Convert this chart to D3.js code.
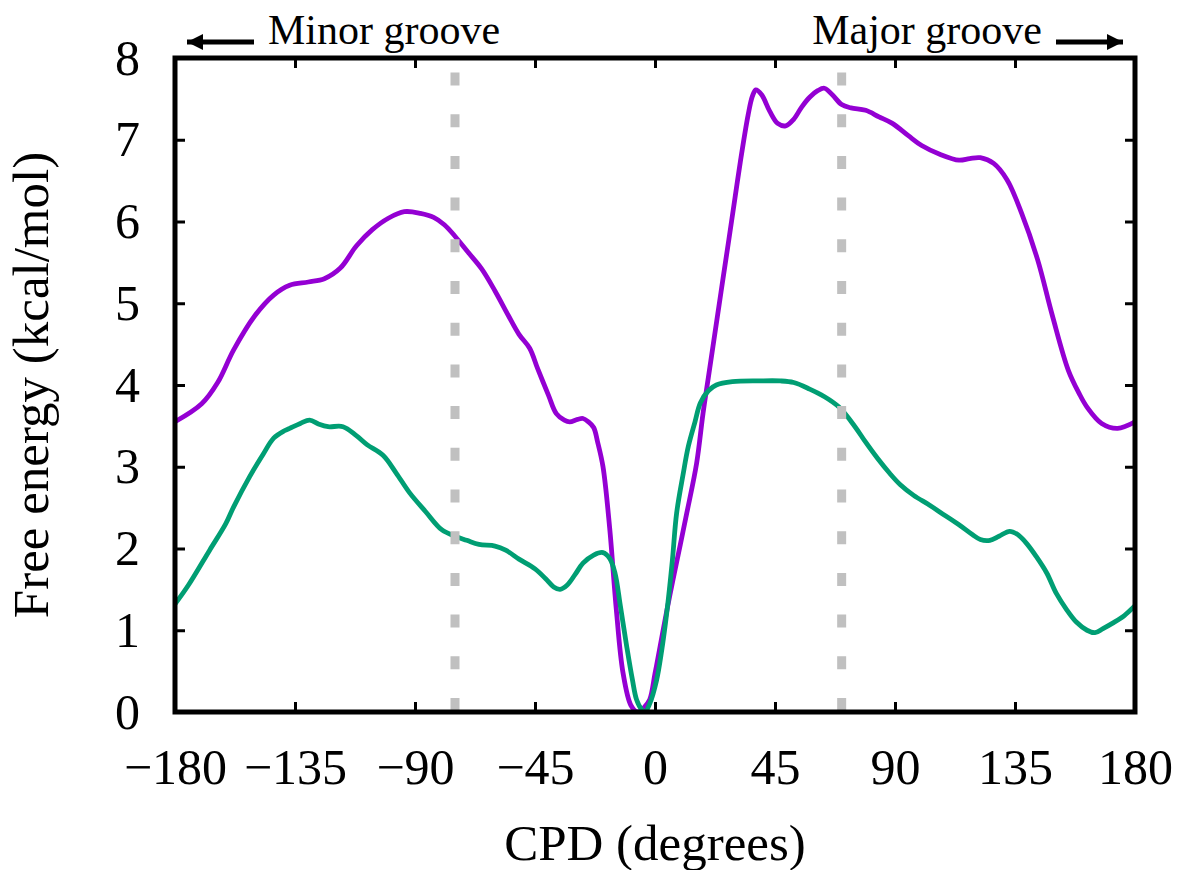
<!DOCTYPE html>
<html lang="en">
<head>
  <meta charset="UTF-8">
  <title>Free energy vs CPD</title>
  <script src="https://d3js.org/d3.v7.min.js"></script>
  <style>
    body { margin: 0; background: #fff; }
    text { font-family: "Liberation Serif", "Times New Roman", serif; fill: #000; }
  </style>
</head>
<body>
  <div id="chart"></div>
  <script>
    // data
    const purpleCpd = [-180, -170, -164, -158, -150, -143, -137, -130, -124, -118, -112, -106, -100, -94, -88, -83, -79, -75, -70, -65, -60, -55, -51, -47, -44, -40, -37, -34, -32, -29, -27, -25, -23, -21.5, -19.5, -17, -14.5, -12, -9, -6.5, -4, -2, 0, 1.9, 4.5, 6.7, 9.5, 11.9, 15.6, 18, 20, 23.5, 25.5, 27.7, 30, 32, 34.9, 36.5, 37.8, 40, 43, 46, 49, 52, 55, 58, 61, 63.5, 66.5, 70, 73.5, 79, 84, 89, 95, 100, 107, 114, 118, 122, 127, 132, 137.5, 143.5, 149, 155, 159, 162, 167.5, 173.5, 180];
    const purpleEnergy = [3.55, 3.77, 4.03, 4.43, 4.85, 5.1, 5.22, 5.26, 5.3, 5.43, 5.7, 5.9, 6.04, 6.12, 6.1, 6.05, 5.96, 5.82, 5.62, 5.42, 5.15, 4.85, 4.62, 4.45, 4.2, 3.88, 3.65, 3.57, 3.55, 3.58, 3.59, 3.55, 3.48, 3.3, 3.0, 2.25, 1.25, 0.48, 0.08, 0, 0.06, 0.15, 0.47, 0.8, 1.25, 1.61, 2.05, 2.43, 3.04, 3.65, 4.09, 4.86, 5.3, 5.78, 6.29, 6.73, 7.3, 7.53, 7.61, 7.55, 7.35, 7.2, 7.17, 7.25, 7.4, 7.52, 7.6, 7.63, 7.55, 7.43, 7.39, 7.36, 7.28, 7.2, 7.05, 6.93, 6.82, 6.75, 6.77, 6.78, 6.71, 6.51, 6.1, 5.53, 4.85, 4.18, 3.9, 3.73, 3.53, 3.47, 3.55];

    const greenCpd = [-180, -175, -167, -161, -158, -152, -147, -143, -139, -137, -133, -129.5, -126, -122.6, -117, -112, -108, -102, -97, -92, -86, -80, -75, -70.6, -66, -60, -56, -51, -45, -41, -38, -35.6, -33, -30, -27, -23, -19.5, -17, -15, -13, -10.6, -8.5, -6.9, -5, -3.75, -2, 0.6, 2.5, 4.4, 6.5, 8.1, 10.5, 12.5, 15, 17, 20, 23, 29, 39, 47, 52, 58, 63.4, 69, 75, 79, 83.5, 88, 92, 97, 103, 108, 114, 119, 122, 125.6, 129, 133, 136, 139.4, 143, 146.9, 150.5, 154.4, 158, 162, 165, 168, 171.8, 176, 180];
    const greenEnergy = [1.32, 1.55, 1.98, 2.3, 2.51, 2.88, 3.15, 3.35, 3.44, 3.47, 3.53, 3.57, 3.52, 3.49, 3.49, 3.38, 3.27, 3.14, 2.92, 2.68, 2.45, 2.23, 2.15, 2.1, 2.05, 2.03, 1.98, 1.87, 1.75, 1.63, 1.53, 1.5, 1.55, 1.68, 1.82, 1.92, 1.95, 1.88, 1.7, 1.3, 0.8, 0.4, 0.15, 0.03, 0, 0.1, 0.39, 0.75, 1.21, 1.85, 2.43, 2.9, 3.25, 3.55, 3.78, 3.93, 4.0, 4.04, 4.05, 4.05, 4.03, 3.95, 3.86, 3.73, 3.49, 3.3, 3.1, 2.92, 2.78, 2.65, 2.53, 2.42, 2.29, 2.17, 2.11, 2.1, 2.15, 2.21, 2.17, 2.06, 1.9, 1.7, 1.45, 1.25, 1.1, 1.0, 0.97, 1.02, 1.09, 1.18, 1.3];

    const grooveMarks = [-75, 70];
    const xTicks = [-180, -135, -90, -45, 0, 45, 90, 135, 180];
    const yTicks = [0, 1, 2, 3, 4, 5, 6, 7, 8];

    const width = 1185;
    const height = 870;
    const margin = { top: 58, right: 50, bottom: 158, left: 175 };

    const svg = d3.select("#chart")
      .append("svg")
      .attr("width", width)
      .attr("height", height);

    const x = d3.scaleLinear()
      .domain([-180, 180])
      .range([margin.left, width - margin.right]);

    const y = d3.scaleLinear()
      .domain([0, 8])
      .range([height - margin.bottom, margin.top]);

    const fmt = d => d < 0 ? "\u2212" + Math.abs(d) : String(d);

    // axes with inward ticks
    svg.append("g")
      .attr("transform", `translate(0,${y(0)})`)
      .call(d3.axisBottom(x).tickValues(xTicks).tickSize(-10).tickPadding(36).tickFormat(fmt));

    svg.append("g")
      .attr("transform", `translate(${x(-180)},0)`)
      .call(d3.axisLeft(y).tickValues(yTicks).tickSize(-10).tickPadding(35).tickFormat(d3.format("d")));

    svg.append("g")
      .attr("transform", `translate(0,${y(8)})`)
      .call(d3.axisTop(x).tickValues(xTicks).tickSize(-10).tickFormat(""));

    svg.append("g")
      .attr("transform", `translate(${x(180)},0)`)
      .call(d3.axisRight(y).tickValues(yTicks).tickSize(-10).tickFormat(""));

    svg.selectAll(".domain").remove();
    svg.selectAll(".tick line").attr("stroke", "#000").attr("stroke-width", 3);
    svg.selectAll(".tick text")
      .style("font-size", "50px")
      .style("font-family", "'Liberation Serif', 'Times New Roman', serif");

    // curves
    svg.append("clipPath").attr("id", "plot-clip")
      .append("rect")
      .attr("x", x(-180))
      .attr("y", y(8))
      .attr("width", x(180) - x(-180))
      .attr("height", y(0) - y(8));

    const line = d3.line()
      .x(d => x(d[0]))
      .y(d => y(d[1]))
      .curve(d3.curveCatmullRom.alpha(0.5));

    svg.append("path")
      .datum(d3.zip(purpleCpd, purpleEnergy))
      .attr("clip-path", "url(#plot-clip)")
      .attr("fill", "none")
      .attr("stroke", "#9400d3")
      .attr("stroke-width", 4.8)
      .attr("stroke-linejoin", "round")
      .attr("d", line);

    svg.append("path")
      .datum(d3.zip(greenCpd, greenEnergy))
      .attr("clip-path", "url(#plot-clip)")
      .attr("fill", "none")
      .attr("stroke", "#009e73")
      .attr("stroke-width", 4.8)
      .attr("stroke-linejoin", "round")
      .attr("d", line);

    // dotted groove markers
    svg.selectAll(".groove")
      .data(grooveMarks)
      .enter()
      .append("line")
      .attr("class", "groove")
      .attr("x1", d => x(d))
      .attr("x2", d => x(d))
      .attr("y1", y(0))
      .attr("y2", y(8))
      .attr("stroke", "#c0c0c0")
      .attr("stroke-width", 9)
      .attr("stroke-dasharray", "13,28.7")
      .attr("stroke-dashoffset", -1);

    // frame
    svg.append("rect")
      .attr("x", x(-180))
      .attr("y", y(8))
      .attr("width", x(180) - x(-180))
      .attr("height", y(0) - y(8))
      .attr("fill", "none")
      .attr("stroke", "#000")
      .attr("stroke-width", 5);

    // axis titles
    svg.append("text")
      .attr("x", (x(-180) + x(180)) / 2)
      .attr("y", 860)
      .attr("text-anchor", "middle")
      .style("font-size", "51px")
      .text("CPD (degrees)");

    svg.append("text")
      .attr("transform", `translate(48,${(y(0) + y(8)) / 2}) rotate(-90)`)
      .attr("text-anchor", "middle")
      .style("font-size", "51px")
      .text("Free energy (kcal/mol)");

    // groove labels with arrows
    svg.append("defs").append("marker")
      .attr("id", "head")
      .attr("viewBox", "0 0 10 10")
      .attr("refX", 10)
      .attr("refY", 5)
      .attr("markerUnits", "userSpaceOnUse")
      .attr("markerWidth", 21)
      .attr("markerHeight", 16)
      .attr("orient", "auto")
      .append("path")
      .attr("d", "M0,0 L10,5 L0,10 Z")
      .attr("fill", "#000");

    svg.append("line")
      .attr("x1", 254).attr("y1", 42)
      .attr("x2", 187).attr("y2", 42)
      .attr("stroke", "#000")
      .attr("stroke-width", 5)
      .attr("marker-end", "url(#head)");

    svg.append("line")
      .attr("x1", 1056).attr("y1", 42)
      .attr("x2", 1123).attr("y2", 42)
      .attr("stroke", "#000")
      .attr("stroke-width", 5)
      .attr("marker-end", "url(#head)");

    svg.append("text")
      .attr("x", 268)
      .attr("y", 44)
      .style("font-size", "42px")
      .text("Minor groove");

    svg.append("text")
      .attr("x", 1042)
      .attr("y", 44)
      .attr("text-anchor", "end")
      .style("font-size", "42px")
      .text("Major groove");
  </script>
</body>
</html>
